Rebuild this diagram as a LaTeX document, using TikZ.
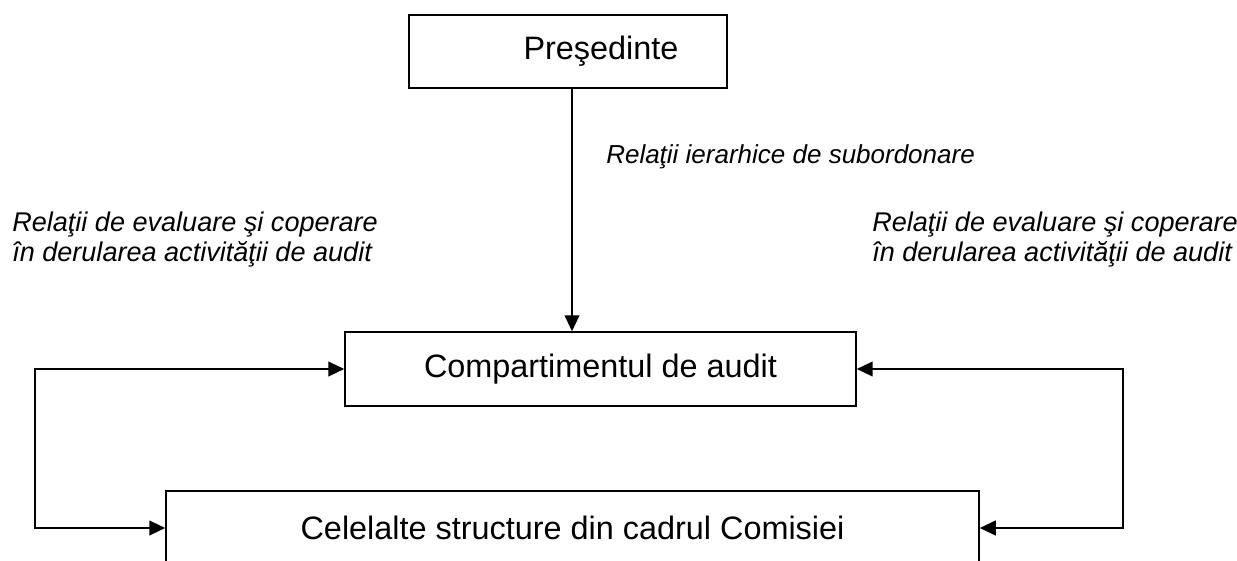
\documentclass[tikz,border=0pt]{standalone}
\usepackage{fontspec}
\setmainfont{Liberation Sans}
\usetikzlibrary{arrows.meta}

\tikzset{
  box/.style={draw, line width=1.1pt, inner sep=0pt, font=\fontsize{24.3}{29}\selectfont},
  rel/.style={inner sep=0pt, align=left, font=\fontsize{20.3}{22.5}\selectfont\itshape},
  arr/.style={line width=1.5pt, -{Triangle[length=12pt,width=11pt]}},
  darr/.style={line width=1.5pt, {Triangle[length=12pt,width=11pt]}-{Triangle[length=12pt,width=11pt]}},
}

\begin{document}
\begin{tikzpicture}[x=0.75pt,y=0.75pt,yscale=-1,xscale=1]
  \useasboundingbox (0,0) rectangle (1237,560);

  % Boxes
  \node [box, minimum width=238.5pt, minimum height=54.75pt] (pres) at (568,51.5) {\hspace*{49.5pt}Preşedinte};
  \node [box, minimum width=383.25pt, minimum height=55.5pt] (comp) at (600.5,369) {Compartimentul de audit};
  \node [box, minimum width=609.75pt, minimum height=55.5pt] (cel) at (572.5,528) {Celelalte structure din cadrul Comisiei};

  % Text Node
  \node [rel, anchor=north west, font=\fontsize{19.5}{22.5}\selectfont\itshape] (ier) at (606,144) {Relaţii ierarhice de subordonare};
  % Text Node
  \node [rel, anchor=north west] (evst) at (12,212) {Relaţii de evaluare şi coperare\\în derularea activităţii de audit};
  % Text Node
  \node [rel, anchor=north west] (evdr) at (872,212) {Relaţii de evaluare şi coperare\\în derularea activităţii de audit};

  % Arrows
  \coordinate (lft) at (35,450);
  \coordinate (rgt) at (1123,450);
  \draw [arr] ([xshift=3pt]pres.south) -- ([xshift=3pt]pres.south |- comp.north);
  \draw [darr] (comp.west) -| (lft) |- (cel.west);
  \draw [darr] (comp.east) -| (rgt) |- (cel.east);
\end{tikzpicture}
\end{document}
